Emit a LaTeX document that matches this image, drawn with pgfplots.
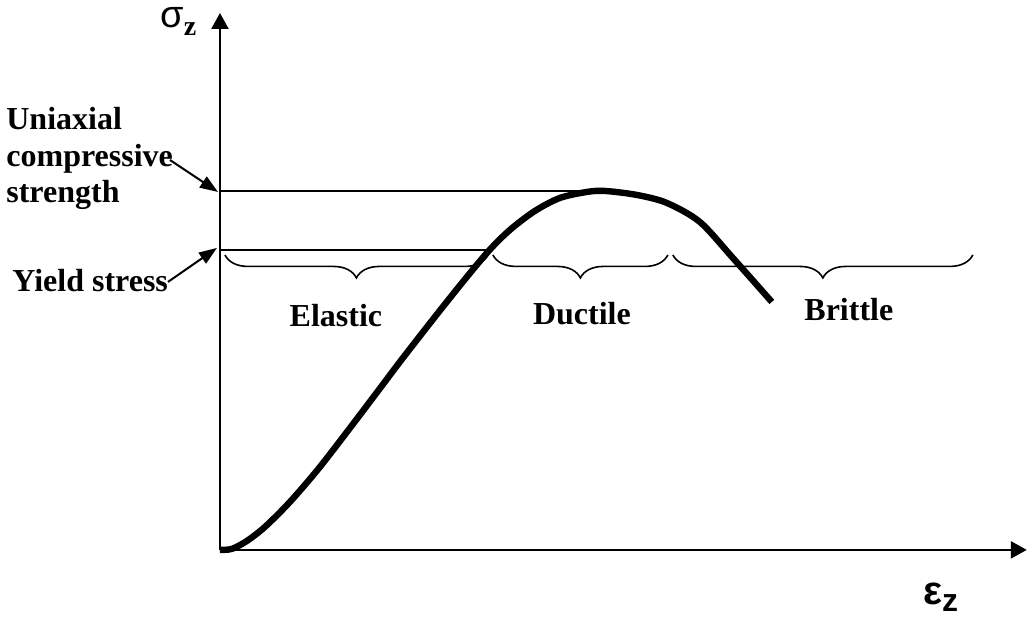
\documentclass[border=0pt]{standalone}
\usepackage{fontspec}
\setmainfont{Liberation Serif}
\newfontfamily\sansf{Liberation Sans}
\usepackage{pgfplots}
\pgfplotsset{compat=1.18}
\usetikzlibrary{arrows.meta,decorations.pathreplacing}
\begin{document}
\begin{tikzpicture}
\begin{axis}[
  width=514pt, height=309.5pt, scale only axis,
  xmin=-220, xmax=808, ymin=-69, ymax=550,
  hide axis, clip=false,
]
\path (axis cs:-220,-69) rectangle (axis cs:808,550);
% axes
\draw[line width=1.2pt,-{Triangle[width=8.5pt,length=8pt]}] (axis cs:0,0) -- (axis cs:0,537);
\draw[line width=1.2pt,-{Triangle[width=8.5pt,length=8pt]}] (axis cs:0,0) -- (axis cs:807,0);
% reference levels
\draw[line width=1pt] (axis cs:0,359) -- (axis cs:375,359);
\draw[line width=1pt] (axis cs:0,300) -- (axis cs:267,300);
% stress-strain curve
\addplot[black, line width=3.2pt, smooth, line cap=butt] coordinates {
(0,0) (12,1) (27,9) (45,23) (70,48) (100,83) (140,135) (183,192) (230,252)
(267,297) (290,320) (315,339) (340,352) (367,358) (385,359) (417,355)
(447,347) (480,328) (513,292) (552,248)
};
% braces
\draw[line width=0.8pt, decorate, decoration={brace, mirror, amplitude=11.5pt}] (axis cs:5,295) -- (axis cs:268,295);
\draw[line width=0.8pt, decorate, decoration={brace, mirror, amplitude=11.5pt}] (axis cs:273,295) -- (axis cs:448,295);
\draw[line width=0.8pt, decorate, decoration={brace, mirror, amplitude=11.5pt}] (axis cs:453,295) -- (axis cs:753,295);
% region labels
\begin{scope}[every node/.style={inner sep=0pt, font=\bfseries\fontsize{16}{18}\selectfont}]
\node[anchor=base] at (axis cs:116,223) {Elastic};
\node[anchor=base] at (axis cs:362,225) {Ductile};
\node[anchor=base] at (axis cs:629,229) {Brittle};
\node[anchor=base west] at (axis cs:-214,420) {Uniaxial};
\node[anchor=base west] at (axis cs:-214,383) {compressive};
\node[anchor=base west] at (axis cs:-214,347) {strength};
\node[anchor=base west] at (axis cs:-208,258) {Yield stress};
\end{scope}
% annotation arrows
\draw[line width=1pt,-{Triangle[width=6.5pt,length=9pt]}] (axis cs:-50,390) -- (axis cs:-2,358);
\draw[line width=1pt,-{Triangle[width=6.5pt,length=9pt]}] (axis cs:-52,268) -- (axis cs:-3,302);
% axis labels
\node[anchor=base west, inner sep=0pt, text height=9pt] at (axis cs:-60,522) {\sansf\fontsize{19}{20}\selectfont σ\raisebox{-4pt}{\rmfamily\bfseries\fontsize{14}{16}\selectfont z}};
\node[anchor=base west, inner sep=0pt] at (axis cs:703,-55) {\sansf\bfseries\fontsize{20}{22}\selectfont ε\raisebox{-3.5pt}{\fontsize{16}{18}\selectfont z}};
\end{axis}
\end{tikzpicture}
\end{document}
